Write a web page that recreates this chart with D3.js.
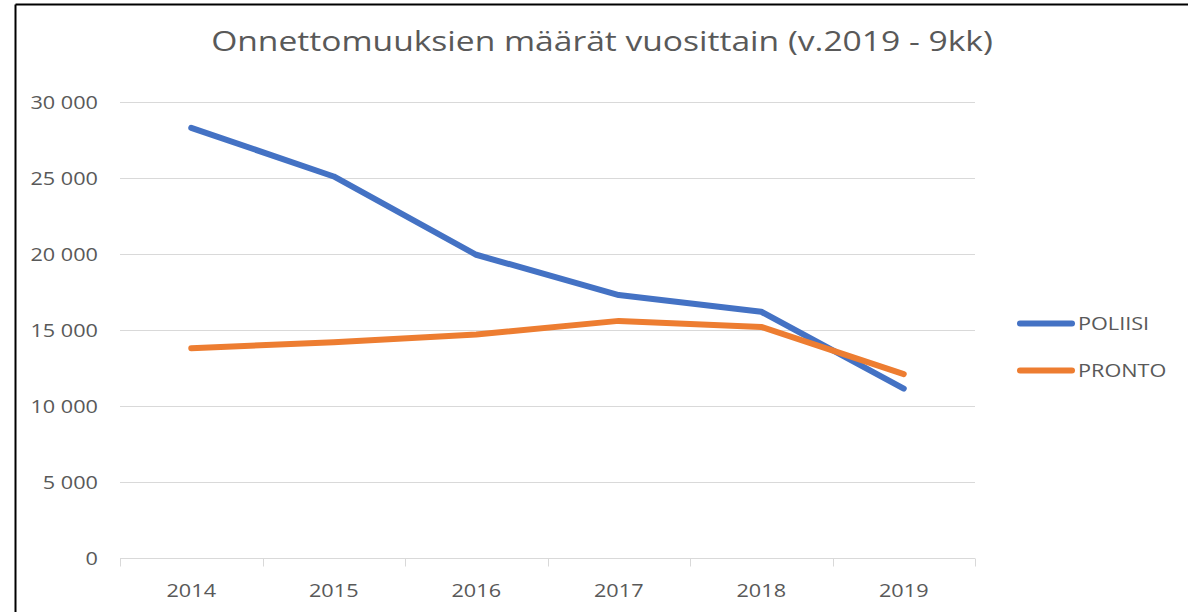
<!DOCTYPE html>
<html>
<head>
<meta charset="utf-8">
<script src="https://cdn.jsdelivr.net/npm/d3@7"></script>
<style>
  body { margin: 0; background: #fff; }
  text { font-family: "Open Sans", "Noto Sans", sans-serif; fill: #595959; }
</style>
</head>
<body>
<svg id="chart" width="1188" height="612"></svg>
<script>
const years = ["2014", "2015", "2016", "2017", "2018", "2019"];
const poliisi = [28300, 25100, 19950, 17300, 16200, 11150];
const pronto = [13800, 14200, 14700, 15600, 15200, 12100];
const yTicks = [0, 5000, 10000, 15000, 20000, 25000, 30000];
const seriesNames = ["POLIISI", "PRONTO"];
const seriesColors = ["#4472C4", "#ED7D31"];
const title = "Onnettomuuksien määrät vuosittain (v.2019 - 9kk)";

// the original picture is a bit stretched sideways, so text gets a small x-scale
const sx = 1.14;

const svg = d3.select("#chart");

// frame (only top and left visible in the crop)
svg.append("line").attr("x1", 15.5).attr("x2", 1188).attr("y1", 4.5).attr("y2", 4.5)
    .attr("stroke", "#000").attr("stroke-width", 2);
svg.append("line").attr("x1", 15.5).attr("x2", 15.5).attr("y1", 4.5).attr("y2", 612)
    .attr("stroke", "#000").attr("stroke-width", 2);

const x = d3.scaleBand().domain(years).range([120, 975]);
const y = d3.scaleLinear().domain([0, 30000]).range([558, 102]);

const fmt = v => d3.format(",")(v).replace(/,/g, " ");

// gridlines
svg.append("g")
    .selectAll("line")
    .data(yTicks.filter(d => d > 0))
    .join("line")
    .attr("x1", 120).attr("x2", 975)
    .attr("y1", d => Math.round(y(d)) + 0.5).attr("y2", d => Math.round(y(d)) + 0.5)
    .attr("stroke", "#d9d9d9").attr("stroke-width", 1);

// y axis labels
const yAxis = d3.axisLeft(y).tickValues(yTicks).tickFormat(fmt).tickSize(0);
const gy = svg.append("g").attr("transform", "translate(120,0)").call(yAxis);
gy.select(".domain").remove();
gy.selectAll("text")
    .attr("font-size", 19)
    .attr("x", -22 / sx)
    .attr("transform", `scale(${sx},1)`)
    .style("fill", "#595959")
    .style("font-family", "\"Open Sans\", sans-serif");

// x axis
const xAxis = d3.axisBottom(x).tickSize(0).tickPadding(25);
const gx = svg.append("g").attr("transform", "translate(0,558.5)").call(xAxis);
gx.select(".domain").attr("stroke", "#d9d9d9").attr("d", "M120,0H975");
gx.selectAll("text")
    .attr("font-size", 19)
    .attr("transform", `scale(${sx},1)`)
    .style("fill", "#595959")
    .style("font-family", "\"Open Sans\", sans-serif");
const bounds = years.map(d => x(d)).concat([975]);
gx.selectAll(".sep")
    .data(bounds)
    .join("line")
    .attr("class", "sep")
    .attr("x1", d => Math.round(d) + 0.5).attr("x2", d => Math.round(d) + 0.5)
    .attr("y1", 0).attr("y2", 8)
    .attr("stroke", "#d9d9d9");

// lines
const line = d3.line()
    .x((d, i) => x(years[i]) + x.bandwidth() / 2)
    .y(d => y(d));

[poliisi, pronto].forEach((s, i) => {
  svg.append("path")
      .datum(s)
      .attr("d", line)
      .attr("fill", "none")
      .attr("stroke", seriesColors[i])
      .attr("stroke-width", 6)
      .attr("stroke-linecap", "round")
      .attr("stroke-linejoin", "round");
});

// title
svg.append("text")
    .attr("transform", "translate(602,51) scale(1.2,1)")
    .attr("text-anchor", "middle")
    .attr("font-size", 28)
    .text(title);

// legend
const lg = svg.append("g").selectAll("g")
    .data(seriesNames)
    .join("g")
    .attr("transform", (d, i) => `translate(1020, ${323.5 + i * 47})`);
lg.append("line")
    .attr("x1", 0).attr("x2", 52).attr("y1", 0).attr("y2", 0)
    .attr("stroke", (d, i) => seriesColors[i])
    .attr("stroke-width", 6)
    .attr("stroke-linecap", "round");
lg.append("text")
    .attr("transform", `translate(58,6.5) scale(${sx},1)`)
    .attr("font-size", 19)
    .text(d => d);
</script>
</body>
</html>
